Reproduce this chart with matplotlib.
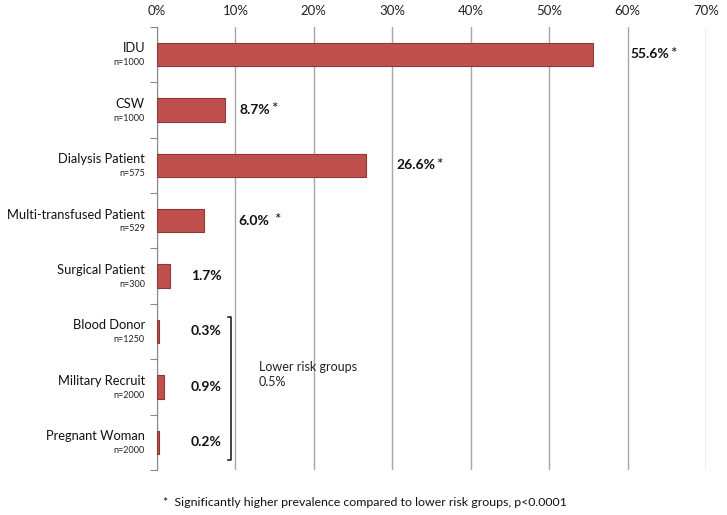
import matplotlib
matplotlib.use('Agg')
import matplotlib.pyplot as plt
import matplotlib.transforms as mtransforms

plt.rcParams['font.family'] = ['Lato', 'DejaVu Sans']

groups = ['IDU', 'CSW', 'Dialysis Patient', 'Multi-transfused Patient',
          'Surgical Patient', 'Blood Donor', 'Military Recruit', 'Pregnant Woman']
sizes = [1000, 1000, 575, 529, 300, 1250, 2000, 2000]
prevalence = [55.6, 8.7, 26.6, 6.0, 1.7, 0.3, 0.9, 0.2]
significant = [True, True, True, True, False, False, False, False]
value_labels = ['55.6%', '8.7%', '26.6%', '6.0%', '1.7%', '0.3%', '0.9%', '0.2%']
# where each value label starts (x, in %)
label_x = [60.4, 10.5, 30.5, 10.4, 4.3, 4.3, 4.3, 4.3]
ticks = [0, 10, 20, 30, 40, 50, 60, 70]

fig = plt.figure(figsize=(7.27, 5.15), dpi=100)
ax = fig.add_axes([0.216, 0.0874, 0.755, 0.8606])

y = list(range(len(groups)))
ax.barh(y, prevalence, height=0.42, color='#C0504D', edgecolor='#8C3836', linewidth=0.8, zorder=3)

ax.set_xlim(0, 70)
ax.set_ylim(len(groups) - 0.5, -0.5)
ax.xaxis.tick_top()
ax.set_xticks(ticks)
ax.set_xticklabels([f'{t}%' for t in ticks], fontsize=9.5, color='#222222')
ax.tick_params(axis='x', length=0, pad=7)
ax.grid(axis='x', color='#A6A6A6', linewidth=1, zorder=0)

ax.set_yticks([i - 0.5 for i in range(len(groups) + 1)])
ax.set_yticklabels([])
ax.tick_params(axis='y', length=5, color='#888888', direction='out')

for s in ['top', 'right', 'bottom']:
    ax.spines[s].set_visible(False)
ax.spines['left'].set_color('#888888')

# category labels with sample sizes
trans = mtransforms.blended_transform_factory(fig.transFigure, ax.transData)
for i, (g, n) in enumerate(zip(groups, sizes)):
    ax.text(145 / 727, i - 0.11, g, transform=trans, ha='right', va='center', fontsize=9.3, color='#111111')
    ax.text(145 / 727, i + 0.15, f'n={n}', transform=trans, ha='right', va='center', fontsize=6.5, color='#222222')

# value labels
for i, (lx, lab, sig) in enumerate(zip(label_x, value_labels, significant)):
    t = ax.text(lx, i, lab, ha='left', va='center', fontsize=10, fontweight='bold', color='#111111')
    if sig:
        gap = 3 if i == 3 else 0.5
        ax.annotate('*', xy=(1, 1), xycoords=t, xytext=(gap, 1), textcoords='offset points',
                    ha='left', va='top', fontsize=11, color='#111111')

# bracket for lower-risk groups
ax.plot([9.0, 9.4, 9.4, 9.0], [4.73, 4.73, 7.32, 7.32], color='#111111', linewidth=1.1, zorder=4)
ax.text(13.0, 5.78, 'Lower risk groups\n0.5%', ha='left', va='center', fontsize=9,
        color='#222222', linespacing=1.35)

fig.text(163 / 727, 1 - 503 / 515, '*  Significantly higher prevalence compared to lower risk groups, p<0.0001',
         ha='left', va='center', fontsize=8.9, color='#111111')

fig.savefig('out.png', dpi=100)
